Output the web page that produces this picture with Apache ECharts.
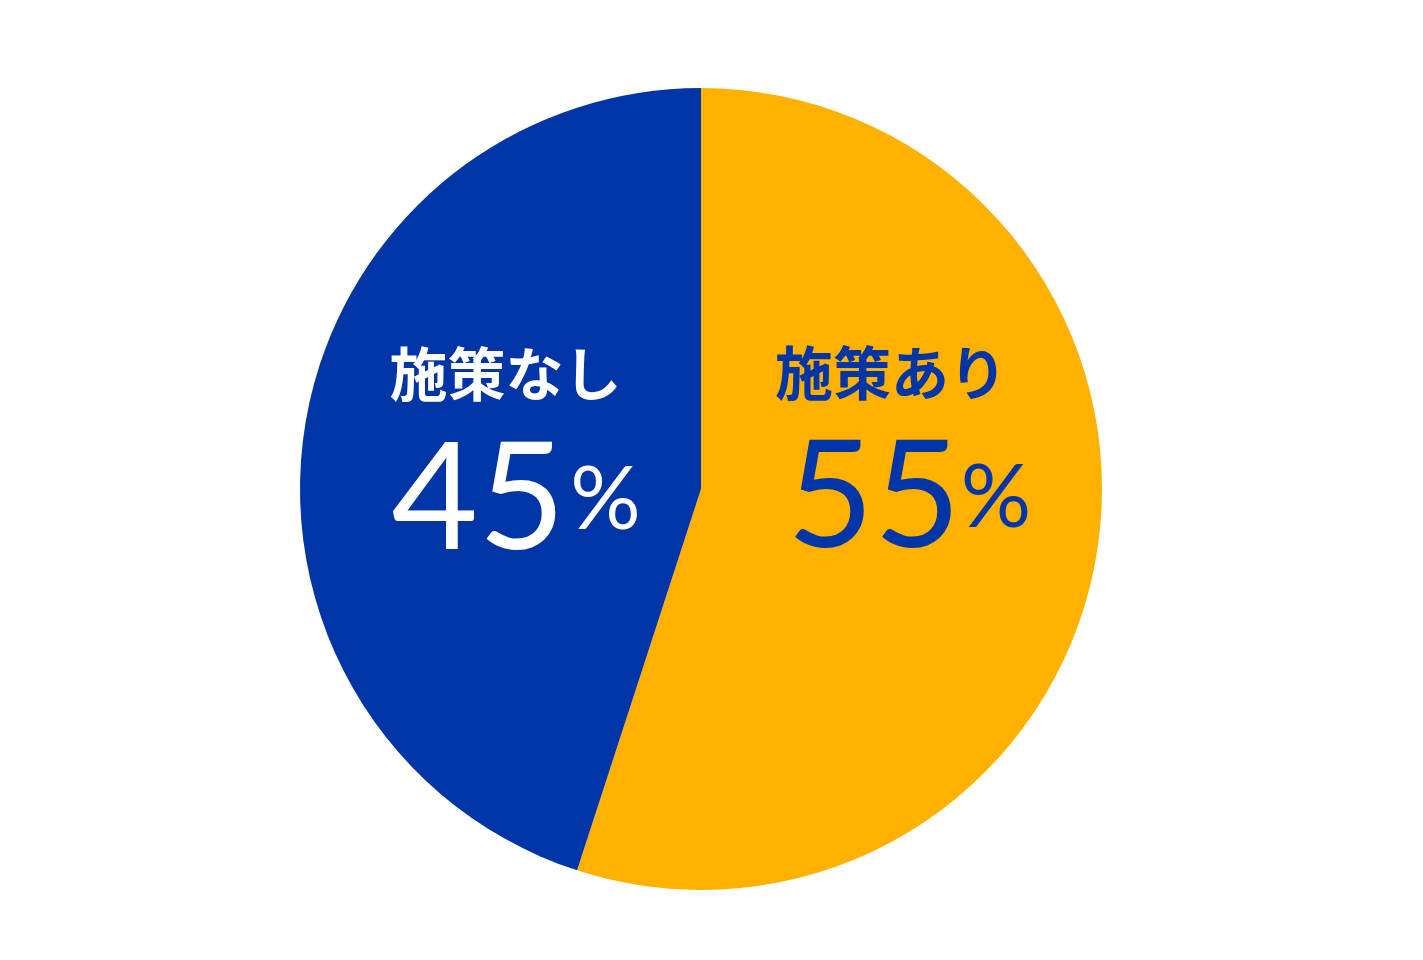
<!DOCTYPE html>
<html>
<head>
<meta charset="utf-8">
<script src="https://cdn.jsdelivr.net/npm/echarts@6/dist/echarts.min.js"></script>
<style>html,body{margin:0;padding:0;background:#fff;}#c{width:1423px;height:960px;}</style>
</head>
<body>
<div id="c"></div>
<script>
const categories = ['施策あり', '施策なし'];
const values = [55, 45];
const sliceColors = ['#FFB100', '#0035A8'];
const labelColors = ['#0035A8', '#FFFFFF'];
const labelShift = [[7, -73], [16, -8]];
const namePadRight = [36, 21];
const pctPadLeft = [0, 5];

const chart = echarts.init(document.getElementById('c'), null, {renderer: 'canvas'});
const data = categories.map((name, i) => ({
  name: name,
  value: values[i],
  itemStyle: {color: sliceColors[i]},
  label: {
    rich: {
      n: {fontFamily: 'Noto Sans CJK JP', fontWeight: 'bold', fontSize: 58, color: labelColors[i], lineHeight: 102, padding: [0, namePadRight[i], 0, 0]},
      v: {fontFamily: 'Lato', fontSize: 150, color: labelColors[i], lineHeight: 150},
      p: {fontFamily: 'Lato', fontSize: 88, color: labelColors[i], lineHeight: 150, padding: [0, 0, 0, pctPadLeft[i]]}
    }
  }
}));
chart.setOption({
  animation: false,
  series: [{
    type: 'pie',
    center: [701, 489],
    radius: 401,
    startAngle: 90,
    clockwise: true,
    silent: true,
    data: data,
    label: {
      show: true,
      position: 'inside',
      align: 'center',
      formatter: p => '{n|' + p.name + '}\n{v|' + p.value + '}{p|%}'
    },
    labelLine: {show: false},
    labelLayout: function (params) {
      const s = labelShift[params.dataIndex];
      return {dx: s[0], dy: s[1]};
    }
  }]
});
</script>
</body>
</html>
